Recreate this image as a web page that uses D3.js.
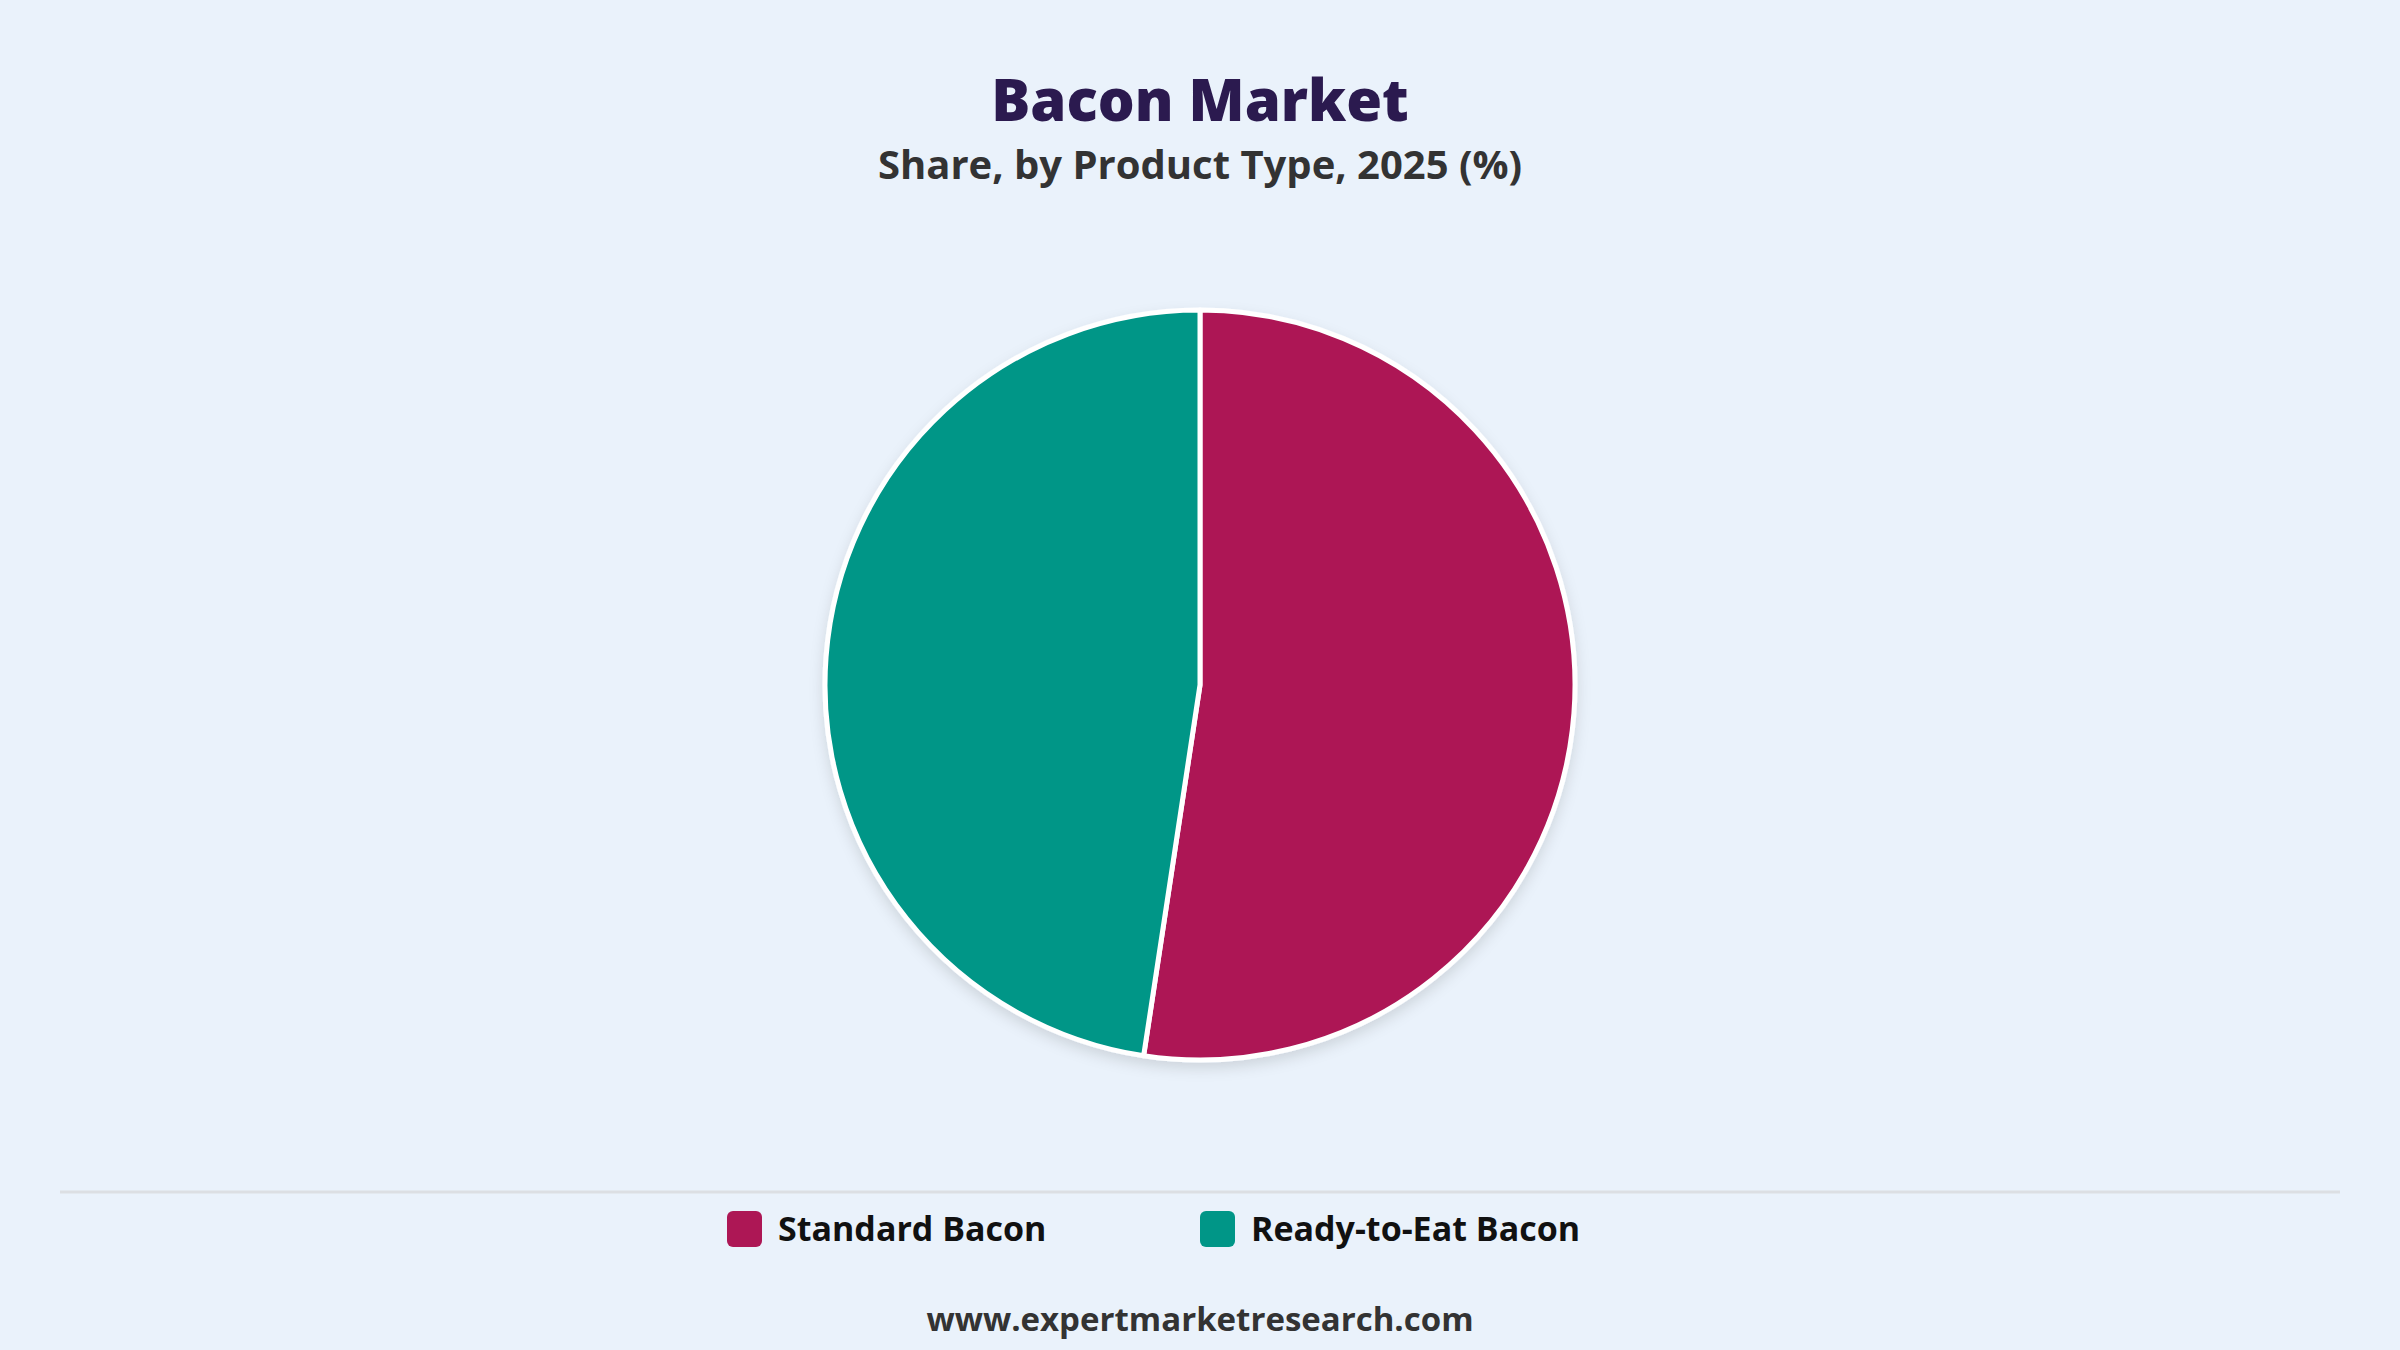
<!DOCTYPE html>
<html>
<head>
<meta charset="utf-8">
<script src="https://cdn.jsdelivr.net/npm/d3@7"></script>
<style>
  html, body { margin: 0; padding: 0; background: #eaf2fb; }
  svg { display: block; font-family: "Open Sans", "Noto Sans", sans-serif; }
</style>
</head>
<body>
<script>
// Data
var categories = ["Standard Bacon", "Ready-to-Eat Bacon"];
var shares = [52.4, 47.6];
var colours = ["#ad1755", "#009687"];

var width = 2400, height = 1350;
var cx = 1200, cy = 685, radius = 375;

var svg = d3.select("body").append("svg")
    .attr("width", width)
    .attr("height", height);

svg.append("rect")
    .attr("width", width)
    .attr("height", height)
    .attr("fill", "#eaf2fb");

// soft shadow under the pie
var defs = svg.append("defs");
var f = defs.append("filter").attr("id", "shadow")
    .attr("x", "-10%").attr("y", "-10%").attr("width", "120%").attr("height", "125%");
f.append("feDropShadow")
    .attr("dx", 0).attr("dy", 6)
    .attr("stdDeviation", 7)
    .attr("flood-color", "#000")
    .attr("flood-opacity", 0.12);

// Titles
svg.append("text")
    .attr("x", cx).attr("y", 121)
    .attr("text-anchor", "middle")
    .attr("font-size", 58)
    .attr("font-weight", 800)
    .attr("fill", "#2b1a4f")
    .text("Bacon Market");

svg.append("text")
    .attr("x", cx).attr("y", 179)
    .attr("text-anchor", "middle")
    .attr("font-size", 40)
    .attr("font-weight", 700)
    .attr("fill", "#333333")
    .text("Share, by Product Type, 2025 (%)");

// Pie
var color = d3.scaleOrdinal().domain(categories).range(colours);
var pie = d3.pie().sort(null).value(function(d) { return d.value; });
var arc = d3.arc().innerRadius(0).outerRadius(radius);

var data = categories.map(function(c, i) { return { name: c, value: shares[i] }; });

var g = svg.append("g")
    .attr("transform", "translate(" + cx + "," + cy + ")")
    .attr("filter", "url(#shadow)");

g.selectAll("path")
    .data(pie(data))
    .enter().append("path")
    .attr("d", arc)
    .attr("fill", function(d) { return color(d.data.name); })
    .attr("stroke", "#ffffff")
    .attr("stroke-width", 5)
    .attr("stroke-linejoin", "round");

// Divider line
svg.append("line")
    .attr("x1", 60).attr("x2", 2340)
    .attr("y1", 1192).attr("y2", 1192)
    .attr("stroke", "#dcdfe3")
    .attr("stroke-width", 3);

// Legend
var lx = d3.scaleBand().domain(categories).range([727, 1673]);

var legend = svg.selectAll(".legend")
    .data(categories)
    .enter().append("g")
    .attr("class", "legend")
    .attr("transform", function(d) { return "translate(" + lx(d) + ",1211)"; });

legend.append("rect")
    .attr("width", 35).attr("height", 36)
    .attr("rx", 6)
    .attr("fill", function(d) { return color(d); });

legend.append("text")
    .attr("x", 51).attr("y", 30)
    .attr("font-size", 34)
    .attr("font-weight", 700)
    .attr("fill", "#111111")
    .text(function(d) { return d; });

// Footer
svg.append("text")
    .attr("x", cx).attr("y", 1331)
    .attr("text-anchor", "middle")
    .attr("font-size", 33)
    .attr("font-weight", 700)
    .attr("fill", "#333333")
    .text("www.expertmarketresearch.com");
</script>
</body>
</html>
